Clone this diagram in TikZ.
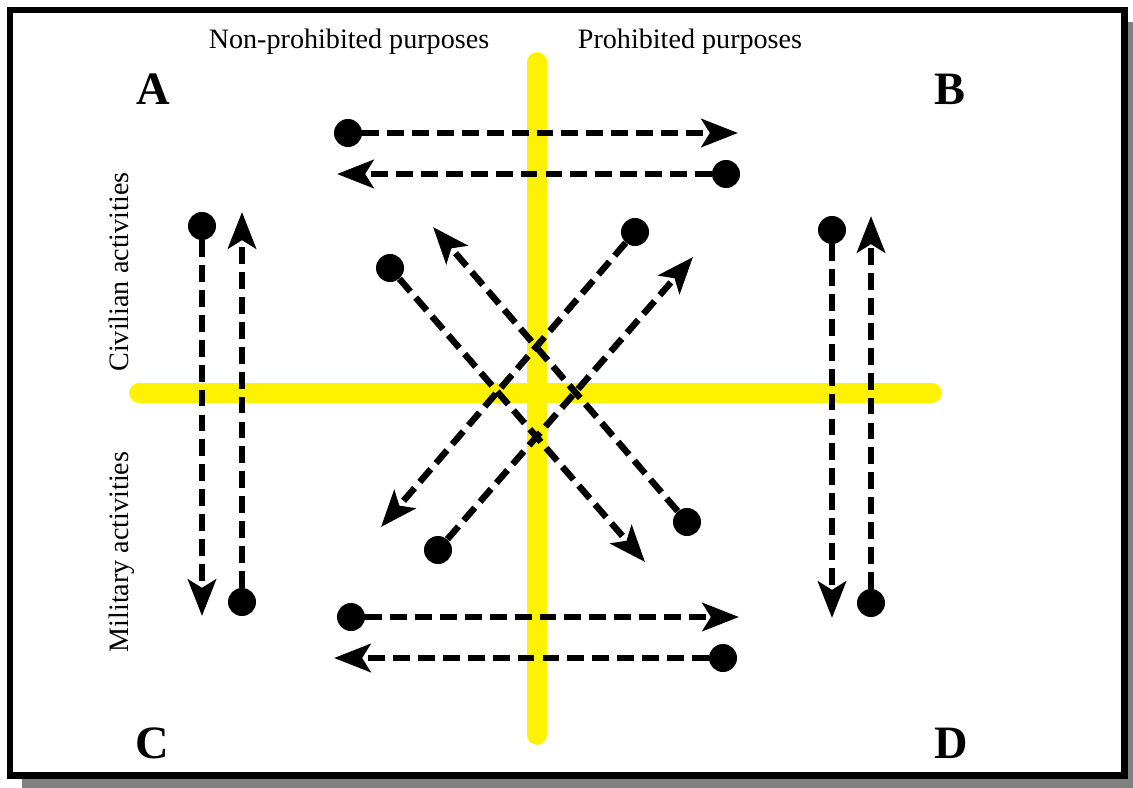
\documentclass[tikz,border=0pt]{standalone}
\usepackage{fontspec}
\setmainfont{Liberation Serif}
\usetikzlibrary{arrows.meta}
\tikzstyle{dot}=[circle,fill=black,minimum size=0.7cm,inner sep=0pt]
\tikzstyle{flow}=[line width=4.6pt, dash pattern=on 12pt off 5.7pt, -{Stealth[length=26pt,width=20pt,inset=6pt]}]
\tikzstyle{axis}=[yellow, line width=14pt, line cap=round]
\tikzstyle{corner}=[font=\fontsize{33}{33}\selectfont\bfseries, inner sep=0pt]
\tikzstyle{annot}=[font=\fontsize{20}{20}\selectfont, inner sep=0pt, anchor=base]

\begin{document}
\begin{tikzpicture}[x=0.025cm,y=-0.025cm]
	\useasboundingbox (0,0) rectangle (1133,788);
	% frame with shadow
	\fill[gray] (22,22) rectangle (1133,788);
	\draw[line width=4.3pt, fill=white] (10,10) rectangle (1124.5,775.5);

	\draw[axis] (537,62) -- (537,735);
	\draw[axis] (139,393) -- (932,393);

	\node[corner] (A) at (153,89) {A};
	\node[corner] (B) at (950,89) {B};
	\node[corner] (C) at (152,743) {C};
	\node[corner] (D) at (951,743) {D};

	\node[annot] (nonprohib) at (349,49) {Non-prohibited purposes};
	\node[annot] (prohib) at (690,49) {Prohibited purposes};
	\node[annot, rotate=90] (civil) at (128,272) {Civilian activities};
	\node[annot, rotate=90] (milit) at (128,552) {Military activities};

	% horizontal transfers
	\node[dot] (t1) at (348,133) {};
	\coordinate (t1e) at (738,133);
	\node[dot] (t2) at (726,174) {};
	\coordinate (t2e) at (337,174);
	\node[dot] (b1) at (351,617) {};
	\coordinate (b1e) at (739,617);
	\node[dot] (b2) at (723,658) {};
	\coordinate (b2e) at (334,658);

	% vertical transfers
	\node[dot] (l1) at (202,226) {};
	\coordinate (l1e) at (202,616);
	\node[dot] (l2) at (242,602) {};
	\coordinate (l2e) at (242,212);
	\node[dot] (r1) at (832,230) {};
	\coordinate (r1e) at (832,618);
	\node[dot] (r2) at (871,603) {};
	\coordinate (r2e) at (871,216);

	% diagonal transfers
	\node[dot] (d1) at (390,268) {};
	\coordinate (d1e) at (645,562);
	\node[dot] (d2) at (635,232) {};
	\coordinate (d2e) at (381,527);
	\node[dot] (d3) at (687,522) {};
	\coordinate (d3e) at (433,227);
	\node[dot] (d4) at (438,550) {};
	\coordinate (d4e) at (693,257);

	\foreach \n in {t1,t2,b1,b2,l1,l2,r1,r2,d1,d2,d3,d4}
		\draw[flow] (\n) -- (\n e);

\end{tikzpicture}
\end{document}
